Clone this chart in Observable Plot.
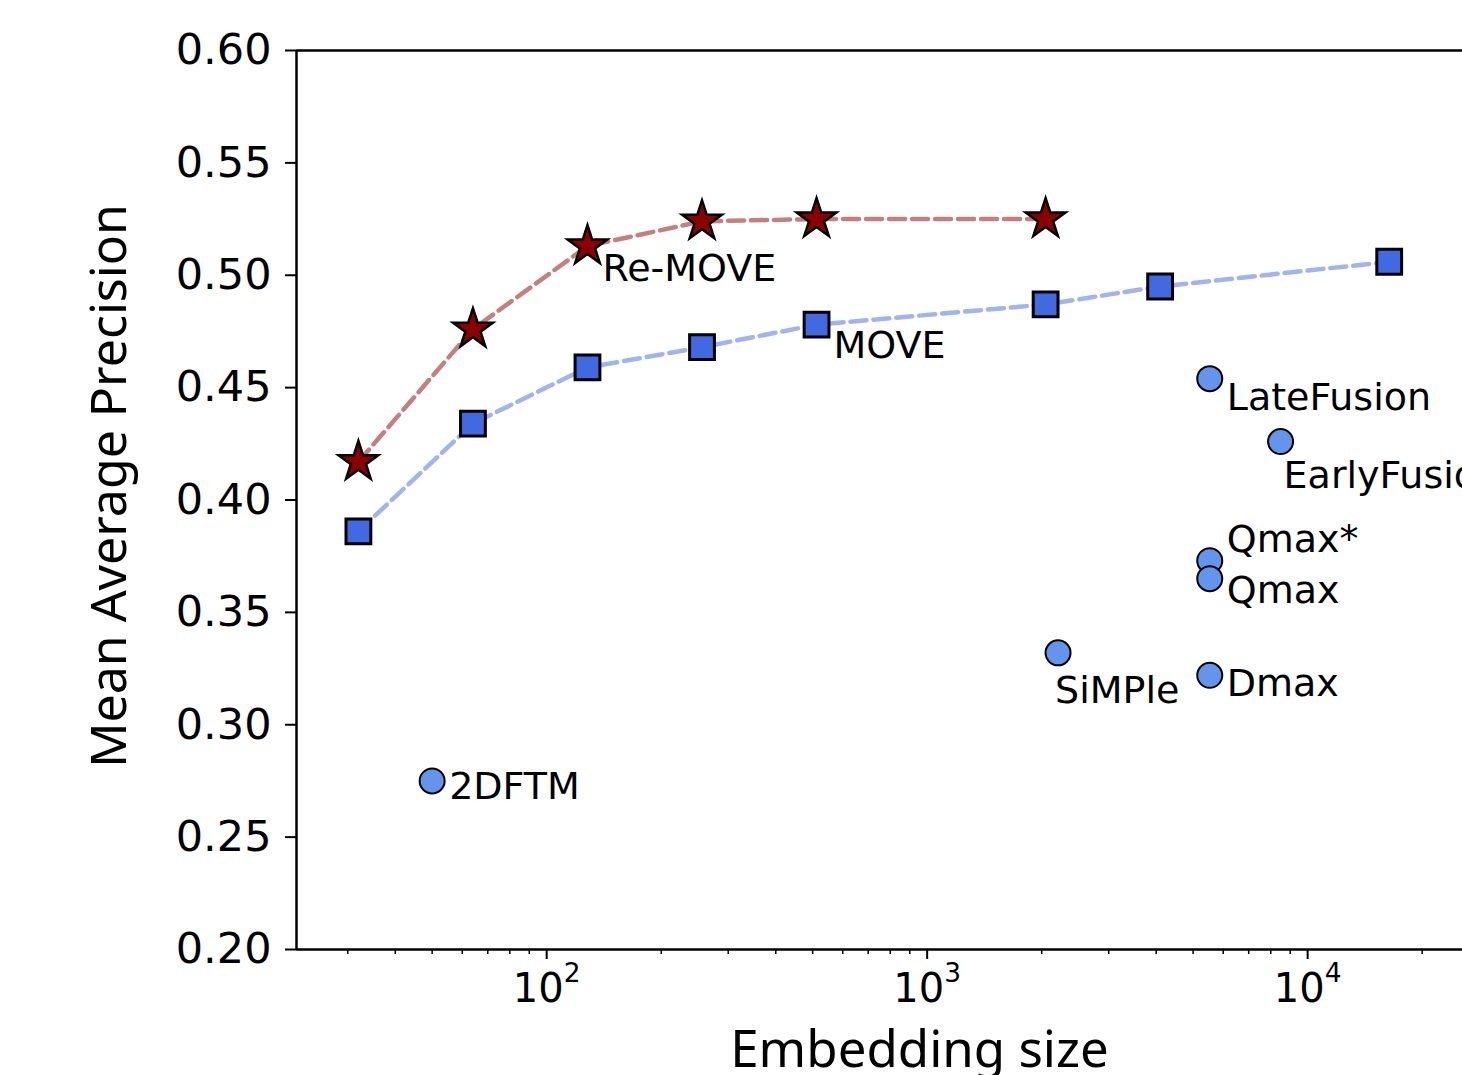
<!DOCTYPE html>
<html><head><meta charset="utf-8">
<script src="https://cdn.jsdelivr.net/npm/d3@7"></script>
<script src="https://cdn.jsdelivr.net/npm/@observablehq/plot@0.6"></script>
<style>body{margin:0;background:#fff}</style>
</head><body><div id="chart"></div>
<script>
// ---- data ----
const reMoveSizes = [32, 64, 128, 256, 512, 2048];
const reMoveMAP = [0.417, 0.476, 0.513, 0.524, 0.525, 0.525];
const moveSizes = [32, 64, 128, 256, 512, 2048, 4096, 16384];
const moveMAP = [0.386, 0.434, 0.459, 0.468, 0.478, 0.487, 0.495, 0.506];
const baselineNames = ["2DFTM", "SiMPle", "LateFusion", "EarlyFusion", "Qmax*", "Qmax", "Dmax"];
const baselineSizes = [50, 2208, 5530, 8490, 5530, 5530, 5530];
const baselineMAP = [0.275, 0.332, 0.454, 0.426, 0.373, 0.365, 0.322];
const seriesNames = ["Re-MOVE", "MOVE"];
const yTicks = [0.20, 0.25, 0.30, 0.35, 0.40, 0.45, 0.50, 0.55, 0.60];
const xMajorTicks = [100, 1000, 10000];
const xMinorTicks = [30, 40, 50, 60, 70, 80, 90, 200, 300, 400, 500, 600, 700, 800, 900,
  2000, 3000, 4000, 5000, 6000, 7000, 8000, 9000, 20000];
const xDomain = [22, 25530];
const yDomain = [0.20, 0.60];
const xTitle = "Embedding size";
const yTitle = "Mean Average Precision";

// ---- tables ----
const reMove = reMoveSizes.map((s, i) => ({size: s, map: reMoveMAP[i]}));
const move = moveSizes.map((s, i) => ({size: s, map: moveMAP[i]}));
const baselines = baselineNames.map((n, i) => ({name: n, size: baselineSizes[i], map: baselineMAP[i]}));

// label placement offsets (pixels, relative to the point)
const labelOffset = {
  "2DFTM": [17, 6], "SiMPle": [-3, 38], "LateFusion": [17, 19], "EarlyFusion": [3, 34],
  "Qmax*": [17, -21], "Qmax": [17, 12], "Dmax": [17, 9], "Re-MOVE": [15, 23], "MOVE": [17, 21]
};
const labelFont = "DejaVu Sans";

const labelMarks = baselines.map(d => Plot.text([d], {
  x: "size", y: "map", text: "name", textAnchor: "start",
  dx: labelOffset[d.name][0], dy: labelOffset[d.name][1],
  fontSize: 38, fontFamily: labelFont, fill: "black"
}));
const seriesLabelMarks = [
  Plot.text([reMove[2]], {x: "size", y: "map", text: () => seriesNames[0], textAnchor: "start",
    dx: labelOffset["Re-MOVE"][0], dy: labelOffset["Re-MOVE"][1], fontSize: 38, fontFamily: labelFont}),
  Plot.text([move[4]], {x: "size", y: "map", text: () => seriesNames[1], textAnchor: "start",
    dx: labelOffset["MOVE"][0], dy: labelOffset["MOVE"][1], fontSize: 38, fontFamily: labelFont})
];

const chart = Plot.plot({
  width: 1462, height: 1075,
  marginLeft: 296, marginRight: 0, marginTop: 50, marginBottom: 126,
  style: {fontFamily: "DejaVu Sans", background: "white", overflow: "visible"},
  x: {type: "log", domain: xDomain},
  y: {domain: yDomain},
  marks: [
    // spines
    Plot.ruleX([xDomain[0]], {stroke: "black", strokeWidth: 2.5}),
    Plot.ruleY([yDomain[0]], {stroke: "black", strokeWidth: 2.5}),
    Plot.ruleY([yDomain[1]], {stroke: "black", strokeWidth: 2.5}),
    // axes
    Plot.axisY({ticks: yTicks, tickFormat: d3.format(".2f"), tickSize: 11, tickPadding: 14,
      fontSize: 43, strokeWidth: 2, label: null, fontFamily: "DejaVu Sans"}),
    Plot.axisX({ticks: xMinorTicks, tickSize: 5, tickFormat: () => "", strokeWidth: 1.5, label: null}),
    Plot.axisX({ticks: xMajorTicks, tickSize: 10, tickPadding: 14, fontSize: 40, strokeWidth: 2,
      tickFormat: d => String(Math.round(Math.log10(d))), label: null, fontFamily: "DejaVu Sans"}),
    // axis titles
    Plot.text([yTitle], {frameAnchor: "left", text: d => d, rotate: -90, dx: -187, dy: -14,
      fontSize: 50, fontFamily: "Noto Sans", textAnchor: "middle"}),
    Plot.text([xTitle], {frameAnchor: "bottom", text: d => d, dx: 40, dy: 117,
      fontSize: 51, fontFamily: "Noto Sans", textAnchor: "middle"}),
    // series lines
    Plot.line(reMove, {x: "size", y: "map", stroke: "darkred", strokeOpacity: 0.5, strokeWidth: 4.5,
      strokeDasharray: "16,7"}),
    Plot.line(move, {x: "size", y: "map", stroke: "royalblue", strokeOpacity: 0.5, strokeWidth: 4.5,
      strokeDasharray: "16,7"}),
    // markers
    Plot.dot(reMove, {x: "size", y: "map", symbol: "star", r: 12.5, fill: "darkred", stroke: "black", strokeWidth: 2.5}),
    Plot.dot(move, {x: "size", y: "map", symbol: "square", r: 14, fill: "royalblue", stroke: "black", strokeWidth: 3}),
    Plot.dot(baselines, {x: "size", y: "map", symbol: "circle", r: 12.5, fill: "cornflowerblue", stroke: "black", strokeWidth: 2}),
    ...labelMarks,
    ...seriesLabelMarks
  ]
});

// superscript exponents on the log x-axis tick labels
chart.querySelectorAll('g[aria-label="x-axis tick label"] text').forEach(t => {
  const e = t.textContent;
  if (!e) return;
  t.textContent = "";
  const ns = "http://www.w3.org/2000/svg";
  const base = document.createElementNS(ns, "tspan");
  base.textContent = "10";
  const sup = document.createElementNS(ns, "tspan");
  sup.textContent = e;
  sup.setAttribute("font-size", "0.66em");
  sup.setAttribute("dy", "-0.75em");
  t.appendChild(base); t.appendChild(sup);
});
document.getElementById("chart").appendChild(chart);
</script>
</body></html>
